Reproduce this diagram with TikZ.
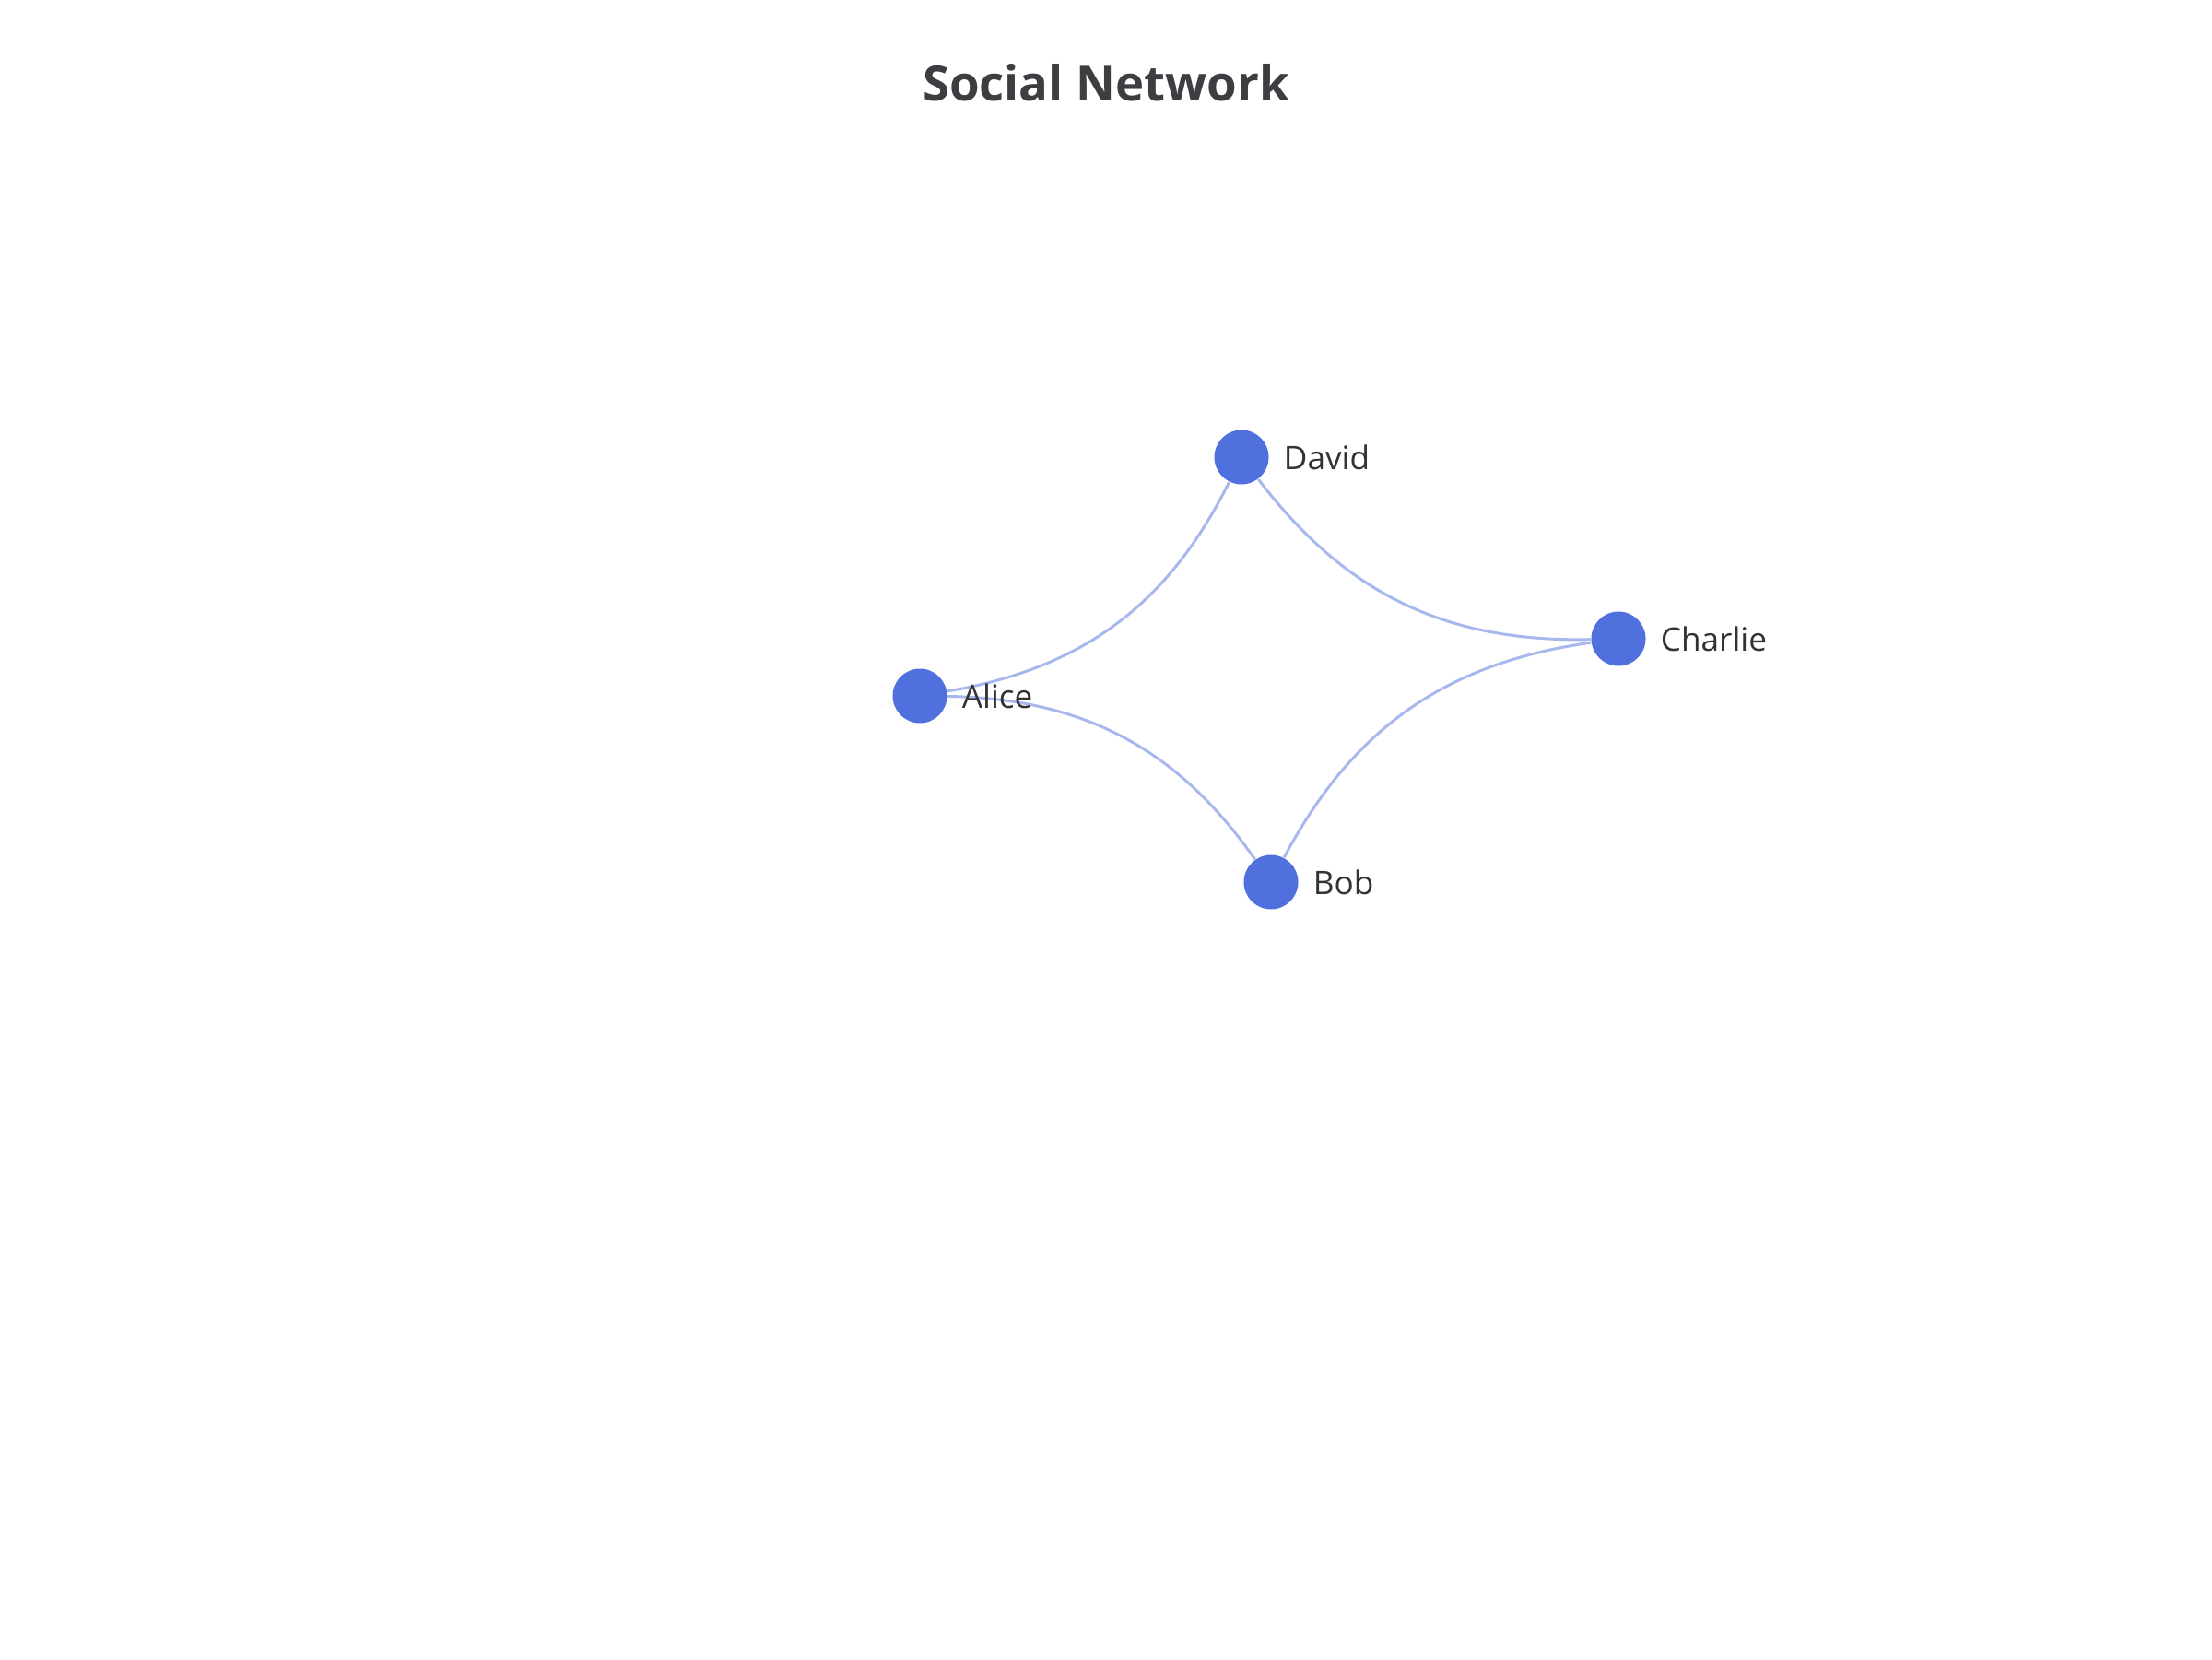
\documentclass[tikz,border=0pt]{standalone}
\usepackage{fontspec}
\setmainfont{Open Sans}
\usetikzlibrary{positioning}
\definecolor{nodeblue}{HTML}{5070DD}
\definecolor{titlegray}{HTML}{3D3D42}
\definecolor{labelgray}{HTML}{333333}

\begin{document}
\begin{tikzpicture}[person/.style={circle,fill=nodeblue,inner sep=0pt,minimum size=0.59cm},
	link/.style={draw=nodeblue!50,line width=0.85pt,bend right=27},
	tag/.style={text=labelgray,inner sep=0pt,font=\fontsize{10}{12}\selectfont}]
			\useasboundingbox[fill=white] (0,0) rectangle (24,18);
			\node[text=titlegray,anchor=base,font=\fontsize{15}{18}\selectfont\bfseries] (title) at (12.0,16.9) {Social Network};
			\node[person] (alice) at (9.98,10.45) {};
			\node[person] (david) at (13.47,13.04) {};
			\node[person] (charlie) at (17.56,11.07) {};
			\node[person] (bob) at (13.79,8.43) {};
			\draw[link] (alice) to (david);
			\draw[link] (david) to (charlie);
			\draw[link] (charlie) to (bob);
			\draw[link] (bob) to (alice);
			\node[tag,right=0.15cm of alice] (alicetag) {Alice};
			\node[tag,right=0.15cm of david] (davidtag) {David};
			\node[tag,right=0.15cm of charlie] (charlietag) {Charlie};
			\node[tag,right=0.15cm of bob] (bobtag) {Bob};
		\end{tikzpicture}
\end{document}
